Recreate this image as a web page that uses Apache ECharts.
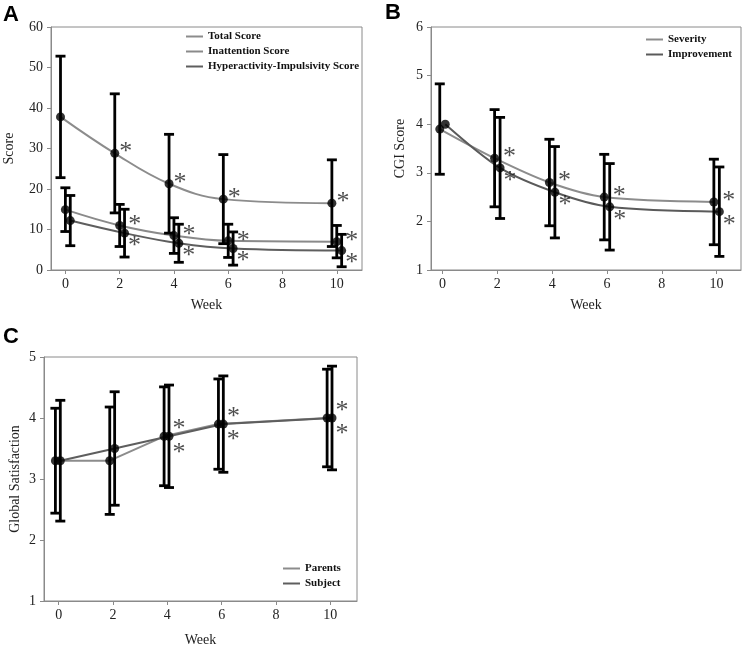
<!DOCTYPE html>
<html><head><meta charset="utf-8">
<script src="https://cdn.jsdelivr.net/npm/echarts@6/dist/echarts.min.js"></script>
<style>html,body{margin:0;padding:0;background:#fff}#c{width:750px;height:651px}</style>
</head><body><div id="c"></div>
<script>
// ---- data ----
const weeks = [0, 2, 4, 6, 10];
const xTickValues = [0, 2, 4, 6, 8, 10];

// Panel A (ADHD rating scale)
const totalMean = [37.8, 28.8, 21.3, 17.5, 16.5];
const totalSD   = [15.0, 14.7, 12.2, 11.0, 10.7];
const inattMean = [14.9, 11.0, 8.5, 7.2, 7.0];
const inattSD   = [5.4, 5.2, 4.4, 4.1, 4.0];
const hyperMean = [12.2, 9.1, 6.6, 5.3, 4.8];
const hyperSD   = [6.2, 5.9, 4.7, 4.1, 4.0];
const sigA = [false, true, true, true, true];

// Panel B (CGI)
const sevMean = [3.9, 3.3, 2.8, 2.5, 2.4];
const sevSD   = [0.93, 1.0, 0.89, 0.88, 0.88];
const impMean = [4.0, 3.1, 2.6, 2.3, 2.2];
const impSD   = [null, 1.04, 0.94, 0.89, 0.92];
const sigB = [false, true, true, true, true];

// Panel C (Global satisfaction)
const parMean = [3.3, 3.3, 3.7, 3.9, 4.0];
const parSD   = [0.86, 0.88, 0.81, 0.74, 0.80];
const subMean = [3.3, 3.5, 3.7, 3.9, 4.0];
const subSD   = [0.99, 0.93, 0.84, 0.79, 0.85];
const sigC = [false, false, true, true, true];

// ---- helpers ----
const SERIF = 'Liberation Serif, Times New Roman, serif';
const AXIS_COLOR = '#8a8a8a';
const TXT = '#222';

function linePts(mean, off) { return weeks.map((w, i) => [w + off, mean[i]]); }
function barPts(mean, sd, off) {
  const out = [];
  weeks.forEach((w, i) => { if (sd[i] != null) out.push([w + off, mean[i], sd[i]]); });
  return out;
}
function dotPts(mean, off, sig) {
  return weeks.map((w, i) => ({ value: [w + off, mean[i]], label: { show: sig[i] } }));
}
function errRender(params, api) {
  const x = api.value(0), m = api.value(1), s = api.value(2);
  const t = api.coord([x, m + s]);
  const b = api.coord([x, m - s]);
  const hw = 5;
  const st = { stroke: '#000', lineWidth: 2.8 };
  return { type: 'group', children: [
    { type: 'line', shape: { x1: t[0], y1: t[1], x2: b[0], y2: b[1] }, style: st },
    { type: 'line', shape: { x1: t[0] - hw, y1: t[1], x2: t[0] + hw, y2: t[1] }, style: st },
    { type: 'line', shape: { x1: b[0] - hw, y1: b[1], x2: b[0] + hw, y2: b[1] }, style: st }
  ]};
}
function group(idx, name, color, mean, sd, sig, off, smooth, starOffset) {
  return [
    { type: 'line', name: name, xAxisIndex: idx, yAxisIndex: idx, data: linePts(mean, off),
      smooth: smooth, symbol: 'none', lineStyle: { color: color, width: 2 }, itemStyle: { color: color },
      z: 2, silent: true },
    { type: 'custom', name: name + ' SD', xAxisIndex: idx, yAxisIndex: idx, data: barPts(mean, sd, off),
      renderItem: errRender, encode: { x: 0, y: 1 }, z: 3, silent: true },
    { type: 'scatter', name: name + ' mean', xAxisIndex: idx, yAxisIndex: idx, data: dotPts(mean, off, sig),
      symbol: 'circle', symbolSize: 9, itemStyle: { color: '#000' }, z: 4, silent: true,
      label: { show: false, formatter: '*', position: 'inside', align: 'center', verticalAlign: 'middle',
        offset: starOffset, fontSize: 26, fontFamily: SERIF, color: '#222' } }
  ];
}
function xAx(idx, min, max, nameGap) {
  return { gridIndex: idx, type: 'value', min: min, max: max,
    axisLine: { show: true, onZero: false, lineStyle: { color: AXIS_COLOR, width: 1 } },
    axisTick: { show: true, length: 4, customValues: xTickValues, lineStyle: { color: AXIS_COLOR } },
    axisLabel: { customValues: xTickValues, fontSize: 14, fontFamily: SERIF, color: TXT, margin: 7 },
    splitLine: { show: false },
    name: 'Week', nameLocation: 'middle', nameGap: nameGap,
    nameTextStyle: { fontSize: 14, fontFamily: SERIF, color: TXT } };
}
function yAx(idx, min, max, interval, name, nameGap) {
  return { gridIndex: idx, type: 'value', min: min, max: max, interval: interval,
    axisLine: { show: true, onZero: false, lineStyle: { color: AXIS_COLOR, width: 1 } },
    axisTick: { show: true, length: 4, lineStyle: { color: AXIS_COLOR } },
    axisLabel: { fontSize: 14, fontFamily: SERIF, color: TXT, margin: 8 },
    splitLine: { show: false },
    name: name, nameLocation: 'middle', nameGap: nameGap,
    nameTextStyle: { fontSize: 14, fontFamily: SERIF, color: TXT } };
}
function legend(names, left, top) {
  return { data: names, left: left, top: top, orient: 'vertical', icon: 'rect',
    itemWidth: 17, itemHeight: 2, itemGap: 4, padding: 0, selectedMode: false,
    textStyle: { fontFamily: SERIF, fontWeight: 'bold', fontSize: 11, color: '#111' } };
}

const chart = echarts.init(document.getElementById('c'), null, { renderer: 'canvas' });
const gridStyle = { show: true, borderColor: AXIS_COLOR, borderWidth: 1, backgroundColor: 'transparent' };
const option = {
  backgroundColor: '#fff',
  animation: false,
  grid: [
    Object.assign({ left: 51, top: 27, width: 311, height: 243 }, gridStyle),
    Object.assign({ left: 431, top: 27, width: 310, height: 243 }, gridStyle),
    Object.assign({ left: 44, top: 357, width: 313, height: 244 }, gridStyle)
  ],
  xAxis: [ xAx(0, -0.53, 10.93, 28), xAx(1, -0.42, 10.89, 28), xAx(2, -0.54, 10.98, 32) ],
  yAxis: [ yAx(0, 0, 60, 10, 'Score', 35), yAx(1, 1, 6, 1, 'CGI Score', 24), yAx(2, 1, 5, 1, 'Global Satisfaction', 22) ],
  legend: [
    legend(['Total Score', 'Inattention Score', 'Hyperactivity-Impulsivity Score'], 186, 31),
    legend(['Severity', 'Improvement'], 646, 34),
    legend(['Parents', 'Subject'], 283, 563)
  ],
  graphic: [
    { type: 'text', left: 3, top: 4, style: { text: 'A', font: 'bold 22px Liberation Sans, Arial, sans-serif', fill: '#000' } },
    { type: 'text', left: 385, top: 2, style: { text: 'B', font: 'bold 22px Liberation Sans, Arial, sans-serif', fill: '#000' } },
    { type: 'text', left: 3, top: 326, style: { text: 'C', font: 'bold 22px Liberation Sans, Arial, sans-serif', fill: '#000' } }
  ],
  series: [].concat(
    group(0, 'Total Score', '#8c8c8c', totalMean, totalSD, sigA, -0.18, 0.4, [11, -1]),
    group(0, 'Inattention Score', '#8a8a8a', inattMean, inattSD, sigA, 0, 0.4, [15, 0]),
    group(0, 'Hyperactivity-Impulsivity Score', '#5e5e5e', hyperMean, hyperSD, sigA, 0.18, 0.4, [10, 13]),
    group(1, 'Severity', '#8c8c8c', sevMean, sevSD, sigB, -0.1, 0.3, [15, -1]),
    group(1, 'Improvement', '#5a5a5a', impMean, impSD, sigB, 0.1, 0.3, [10, 13]),
    group(2, 'Parents', '#8c8c8c', parMean, parSD, sigC, -0.12, false, [15, -7]),
    group(2, 'Subject', '#5e5e5e', subMean, subSD, sigC, 0.06, false, [10, 16.5])
  )
};
chart.setOption(option);
</script>
</body></html>
